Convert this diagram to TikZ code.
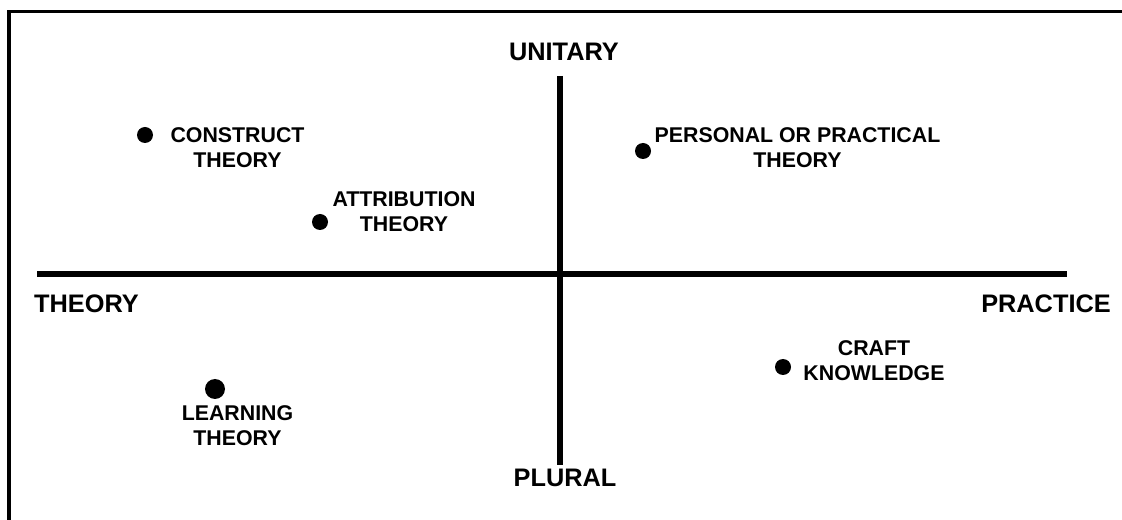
\documentclass[tikz,border=0pt]{standalone}
\usepackage{fontspec}
\setmainfont{Liberation Sans}
\usetikzlibrary{positioning}

\tikzset{
  dot/.style={circle, fill=black, inner sep=0pt, minimum size=12pt},
  lbl/.style={inner sep=0pt, align=center, font=\fontsize{16}{18.75}\selectfont\bfseries},
  axislbl/.style={inner sep=0pt, font=\fontsize{19}{22}\selectfont\bfseries},
  axis/.style={line width=4.5pt, line cap=butt},
}

\begin{document}
\begin{tikzpicture}[x=0.75pt, y=-0.75pt]
    \useasboundingbox (0,0) rectangle (1122,520);
    \clip (0,0) rectangle (1122,520);

    % Frame (runs off the right and bottom)
    \draw[line width=2.6pt] (9,540) |- (1140,11.5);

    % Axes
    \coordinate (west) at (37,274);
    \coordinate (east) at (1067,274);
    \coordinate (north) at (560,76);
    \coordinate (south) at (560,465);
    \draw[axis] (west) -- (east);
    \draw[axis] (north) -- (south);

    \node[axislbl] (unitary) at (564,52) {UNITARY};
    \node[axislbl] (plural) at (565,478) {PLURAL};
    \node[axislbl] (theory) at (86.5,304) {THEORY};
    \node[axislbl] (practice) at (1046,304) {PRACTICE};

    % Theories
    \node[dot] (construct) at (145,135) {};
    \node[lbl] (constructlbl) at (237.5,147.5) {CONSTRUCT\\THEORY};

    \node[dot] (attrib) at (320,222) {};
    \node[lbl] (attriblbl) at (404,212) {ATTRIBUTION\\THEORY};

    \node[dot] (personal) at (643,151) {};
    \node[lbl] (personallbl) at (797.5,147.5) {PERSONAL OR PRACTICAL\\THEORY};

    \node[dot] (craft) at (783,367) {};
    \node[lbl] (craftlbl) at (874,361) {CRAFT\\KNOWLEDGE};

    \node[dot, minimum size=15pt] (learning) at (215,389) {};
    \node[lbl] (learninglbl) at (237.5,425.5) {LEARNING\\THEORY};
  \end{tikzpicture}
\end{document}
